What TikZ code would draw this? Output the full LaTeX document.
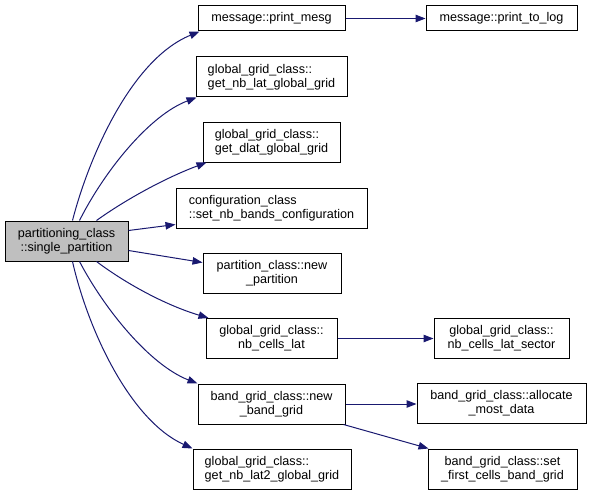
\documentclass[tikz,border=0pt]{standalone}
\usepackage{fontspec}
\setmainfont{Liberation Sans}
\usetikzlibrary{arrows.meta}
\definecolor{edgeblue}{HTML}{191970}
\definecolor{rootgray}{HTML}{BFBFBF}
\tikzset{
  fn/.style={draw=black, line width=1pt, inner sep=0pt, font=\fontsize{12.6}{14}\selectfont},
  call/.style={draw=edgeblue, line width=1pt, -{Triangle[length=10pt,width=7.5pt]}},
}
\begin{document}
\begin{tikzpicture}[x=1pt,y=-1pt]
\useasboundingbox (0,0) rectangle (592,495);
\node[fn, fill=rootgray, align=center, minimum width=123pt, minimum height=40pt] (root) at (66.5,241) {partitioning\_class\\::single\_partition};
\node[fn, align=center, minimum width=147pt, minimum height=25pt] (pm) at (271.5,18.5) {message::print\_mesg};
\node[fn, align=left, minimum width=151pt, minimum height=40pt] (gnl) at (271.5,77) {global\_grid\_class::\\get\_nb\_lat\_global\_grid};
\node[fn, align=left, minimum width=137pt, minimum height=40pt] (gdl) at (271.5,142) {global\_grid\_class::\\get\_dlat\_global\_grid};
\node[fn, align=left, minimum width=191pt, minimum height=40pt] (cfg) at (271.5,208) {configuration\_class\\::set\_nb\_bands\_configuration};
\node[fn, align=center, minimum width=138pt, minimum height=40pt] (np) at (272,273) {partition\_class::new\\\_partition};
\node[fn, align=center, minimum width=131pt, minimum height=40pt] (ncl) at (271.5,338.5) {global\_grid\_class::\\nb\_cells\_lat};
\node[fn, align=center, minimum width=147pt, minimum height=40pt] (nbg) at (271.5,404) {band\_grid\_class::new\\\_band\_grid};
\node[fn, align=left, minimum width=158pt, minimum height=40pt] (gnl2) at (272,469) {global\_grid\_class::\\get\_nb\_lat2\_global\_grid};
\node[fn, align=center, minimum width=151pt, minimum height=25pt] (ptl) at (501.5,18.5) {message::print\_to\_log};
\node[fn, align=center, minimum width=135pt, minimum height=40pt] (ncls) at (501.5,338) {global\_grid\_class::\\nb\_cells\_lat\_sector};
\node[fn, align=center, minimum width=169pt, minimum height=40pt] (amd) at (501.5,403) {band\_grid\_class::allocate\\\_most\_data};
\node[fn, align=center, minimum width=149pt, minimum height=40pt] (sfc) at (502.5,469) {band\_grid\_class::set\\\_first\_cells\_band\_grid};
% edges from root
\draw[call] ([xshift=68pt]root.north west) .. controls (88,160) and (130,60) .. ([xshift=2pt]pm.south west);
\draw[call] ([xshift=75pt]root.north west) .. controls (105,170) and (150,115) .. ([xshift=1pt]gnl.south west);
\draw[call] ([xshift=92pt]root.north west) .. controls (125,200) and (165,178) .. ([xshift=4pt]gdl.south west);
\draw[call] ([yshift=-10pt]root.north east) -- ([yshift=4pt]cfg.south west);
\draw[call] ([yshift=11pt]root.south east) -- ([yshift=-10pt]np.north west);
\draw[call] ([xshift=92pt]root.south west) .. controls (125,283) and (165,305) .. ([xshift=3pt]ncl.north west);
\draw[call] ([xshift=75pt]root.south west) .. controls (105,310) and (150,365) .. ([xshift=0pt]nbg.north west);
\draw[call] ([xshift=68pt]root.south west) .. controls (88,330) and (130,420) .. ([xshift=0pt]gnl2.north west);
% right edges
\draw[call] (pm.east) -- (ptl.west);
\draw[call] (ncl.east) -- (ncl.east -| ncls.west);
\draw[call] (nbg.east) -- (nbg.east -| amd.west);
\draw[call] ([xshift=-2pt]nbg.south east) -- ([xshift=1pt]sfc.north west);
\end{tikzpicture}
\end{document}
